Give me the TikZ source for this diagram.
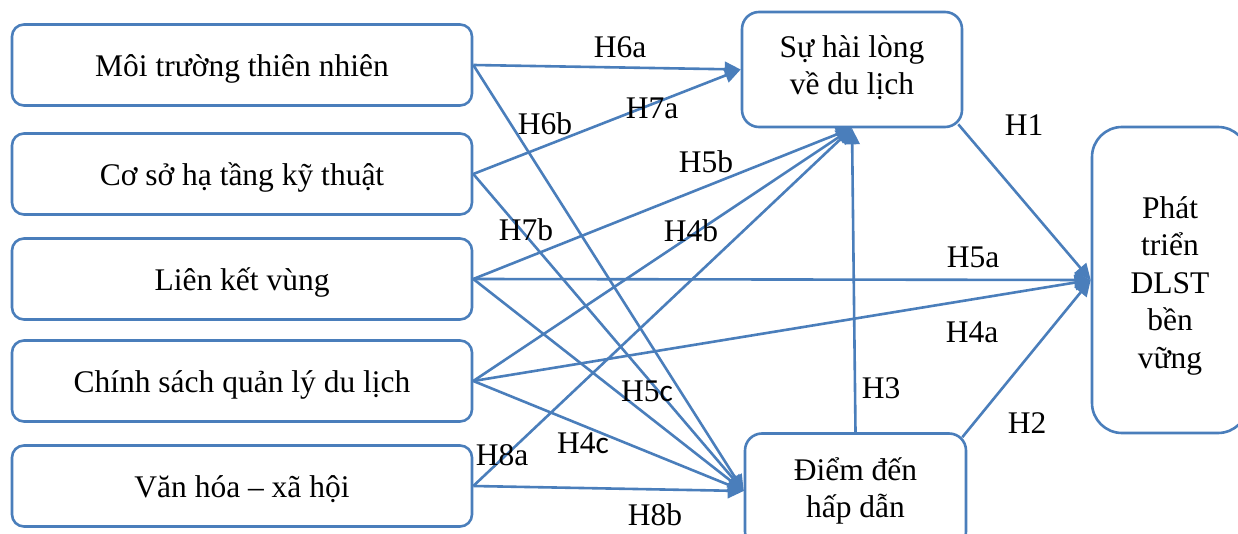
\documentclass[tikz,border=0pt]{standalone}
\usepackage{fontspec}
\setmainfont{Liberation Serif}
\newfontfamily\calfont{Carlito}
\usetikzlibrary{arrows.meta,calc}
\definecolor{lineblue}{HTML}{4A7EBB}
\begin{document}
\begin{tikzpicture}[x=1pt,y=-1pt,
  box/.style={draw=lineblue,line width=2.6pt,rounded corners=12pt,inner sep=0pt,
    font=\fontsize{31.5}{37.5}\selectfont,align=center},
  leftbox/.style={box,minimum width=460pt,minimum height=81pt,text height=30pt,text depth=6.5pt},
  lbl/.style={font=\fontsize{31.5}{37.5}\selectfont,inner sep=0pt},
  arr/.style={draw=lineblue,line width=2.6pt,-{Triangle[length=16pt,width=15pt]}}]
\useasboundingbox (0,0) rectangle (1238,534);
\fill[white] (0,0) rectangle (1238,534);

% left boxes
\node[leftbox] (m1) at (242,65) {Môi trường thiên nhiên};
\node[leftbox] (m2) at (242,174) {Cơ sở hạ tầng kỹ thuật};
\node[leftbox] (m3) at (242,279) {Liên kết vùng};
\node[leftbox] (m4) at (242,381) {Chính sách quản lý du lịch};
\node[leftbox] (m5) at (242,486) {Văn hóa – xã hội};

% middle and right boxes
\node[box,minimum width=220pt,minimum height=115pt,rounded corners=17pt] (sat) at (852,69.5) {Sự hài lòng\\về du lịch\rule[-9pt]{0pt}{9pt}};
\node[box,minimum width=221pt,minimum height=115pt,rounded corners=17pt] (dest) at (855.5,491) {Điểm đến\\hấp dẫn};
\node[box,minimum width=156pt,minimum height=306pt,rounded corners=30pt] (goal) at (1170,280) {\rule{0pt}{33.5pt}Phát\\triển\\DLST\\bền\\vững};

% connectors to Sự hài lòng
\draw[arr] (m1.east) -- (sat.west);
\draw[arr] (m2.east) -- (sat.west);
\draw[arr] (m3.east) -- (sat.south);
\draw[arr] (m4.east) -- (sat.south);
\draw[arr] (m5.east) -- (sat.south);
\draw[arr] (dest.north) -- (sat.south);

% connectors to Điểm đến
\draw[arr] (m1.east) -- (dest.west);
\draw[arr] (m2.east) -- (dest.west);
\draw[arr] (m3.east) -- (dest.west);
\draw[arr] (m4.east) -- (dest.west);
\draw[arr] (m5.east) -- (dest.west);

% connectors to Phát triển
\draw[arr] ($(sat.south east)+(-5,-4)$) -- (goal.west);
\draw[arr] (m3.east) -- (goal.west);
\draw[arr] (m4.east) -- (goal.west);
\draw[arr] ($(dest.north east)+(-5,5)$) -- (goal.west);

% labels
\node[lbl] (l6a) at (620,47) {H6a};
\node[lbl] (l7a) at (652,108) {H7a};
\node[lbl] (l6b) at (545,124) {H6b};
\node[lbl] (l5b) at (706,162) {H5b};
\node[lbl] (l7b) at (526,230) {H7b};
\node[lbl] (l4b) at (691,231) {H4b};
\node[lbl] (l1) at (1024,125) {H1};
\node[lbl] (l5a) at (973,257) {H5a};
\node[lbl] (l4a) at (972,332) {H4a};
\node[lbl] (l5c) at (647,391) {H5{\calfont c}};
\node[lbl] (l3) at (881,388) {H3};
\node[lbl] (l2) at (1027,423) {H2};
\node[lbl] (l8a) at (502,455) {H8a};
\node[lbl] (l4c) at (583,443) {H4{\calfont c}};
\node[lbl] (l8b) at (655,515) {H8b};
\end{tikzpicture}
\end{document}
